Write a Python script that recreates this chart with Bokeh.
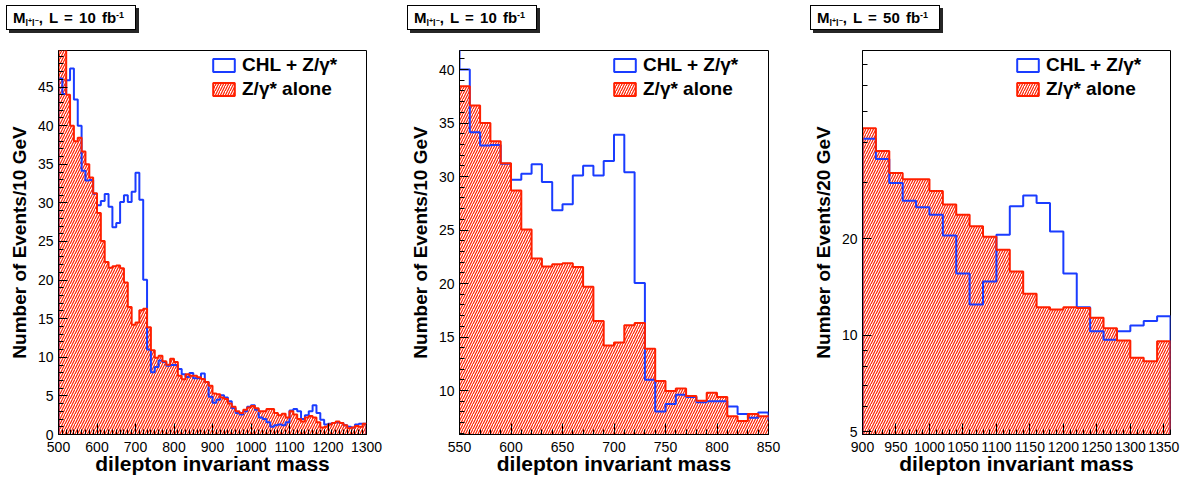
from bokeh.plotting import figure
from bokeh.layouts import row, column
from bokeh.models import (Range1d, SingleIntervalTicker, FixedTicker, Legend,
                          LegendItem, BasicTickFormatter, Div)
from bokeh.embed import file_html
from bokeh.resources import INLINE

# ---------------- data ----------------
# 10 fb^-1, 10 GeV bins (lower edges)
mass_lo_10 = list(range(500, 1300, 10))
chl_10 = [46.1, 44.1, 45.9, 47.4, 43.4, 40.0, 34.15, 32.9, 32.95, 31.2,
          29.7, 30.25, 31.15, 29.5, 26.85, 27.4, 30.1, 31.0, 30.1, 31.45,
          33.9, 30.4, 20.05, 11.0, 8.05, 8.75, 9.6, 9.4, 8.9, 9.0,
          9.0, 8.5, 7.8, 7.45, 7.95, 7.3, 7.3, 7.9, 6.8, 4.9,
          4.1, 4.5, 5.1, 4.8, 4.3, 3.4, 2.8, 2.6, 3.0, 3.6,
          3.8, 3.2, 2.2, 2.0, 1.6, 1.0, 1.2, 1.3, 1.2, 1.6,
          3.1, 3.3, 3.0, 2.0, 2.5, 3.0, 3.8, 2.8, 1.9, 1.3,
          1.4, 1.5, 1.6, 1.5, 1.2, 1.0, 0.9, 1.3, 1.4, 1.4]
dy_10 = [54.0, 51.0, 44.0, 40.0, 38.0, 38.45, 36.65, 35.0, 33.3, 31.25,
         28.7, 25.05, 22.35, 21.6, 21.8, 21.9, 21.55, 19.7, 16.5, 14.2,
         14.5, 16.1, 16.3, 13.9, 10.9, 9.95, 10.2, 9.5, 9.05, 9.8,
         9.4, 7.6, 7.15, 7.8, 7.6, 7.6, 7.4, 7.2, 6.8, 6.3,
         5.3, 5.2, 4.8, 4.6, 4.0, 3.6, 3.0, 2.8, 3.2, 3.5,
         3.7, 3.4, 3.0, 3.0, 3.3, 3.3, 2.8, 2.5, 2.7, 2.2,
         3.0, 2.6, 2.0, 1.7, 2.2, 2.4, 2.2, 1.6, 0.9, 1.0,
         1.3, 1.5, 1.7, 1.5, 1.2, 0.8, 0.9, 1.1, 1.0, 1.4]

# 50 fb^-1, 20 GeV bins (lower edges)
mass_lo_20 = list(range(900, 1360, 20))
chl_50 = [41.1, 35.5, 29.9, 26.3, 25.1, 23.8, 20.5, 15.6, 12.5, 14.74, 20.6, 25.3,
          27.3, 25.9, 21.1, 15.6, 12.25, 10.3, 9.7, 10.3, 10.75, 11.1, 11.47]
dy_50 = [44.3, 37.6, 32.1, 30.7, 30.7, 28.2, 25.6, 23.8, 21.9, 20.3, 18.5, 15.84,
         13.5, 12.25, 12.05, 12.25, 12.17, 11.36, 10.53, 9.65, 8.52, 8.31, 9.6]

lumi_labels = ["10", "10", "50"]
y_titles = ["Number of Events/10 GeV", "Number of Events/10 GeV", "Number of Events/20 GeV"]
x_title = "dilepton invariant mass"
legend_labels = ["CHL + Z/\u03b3*", "Z/\u03b3* alone"]

# ---------------- style ----------------
FONT = "Liberation Sans"
BLUE = "#1a3cff"
RED = "#ff2000"
DIV_H = 34
TOTAL_H = 478


def outline(lo, bw, vals, base):
    xs, ys = [lo[0]], [base]
    for x0, v in zip(lo, vals):
        xs += [x0, x0 + bw]
        ys += [v, v]
    xs.append(lo[-1] + bw)
    ys.append(base)
    return xs, ys


def title_div(width, box_left, lumi):
    html = (
        '<div style="margin-left:%dpx;margin-top:5px;width:130px;height:25px;'
        'box-sizing:border-box;border:1px solid #000;background:#fff;'
        'box-shadow:3px 3px 0 #262626;font-family:\'Liberation Sans\';font-weight:bold;'
        'font-size:15px;line-height:23px;padding-left:6px;white-space:nowrap;color:#000;">'
        'M<span style="font-size:9px;position:relative;top:3px;">l'
        '<span style="font-size:7px;position:relative;top:-3px;">+</span>l'
        '<span style="font-size:7px;position:relative;top:-3px;">\u2212</span></span>'
        '<span style="word-spacing:2px;">, L = %s fb</span>'
        '<span style="font-size:9px;position:relative;top:-5px;">-1</span></div>'
    ) % (box_left, lumi)
    return Div(text=html, width=width, height=DIV_H, margin=(0, 0, 0, 0))


def make_panel(lo, bw, blue, red, xr, yr, ylog, width, bl, br, xint, xminor,
               yticker, ytitle):
    p = figure(width=width, height=TOTAL_H - DIV_H,
               min_border_left=bl, min_border_right=br,
               min_border_top=50 - DIV_H, min_border_bottom=44,
               x_range=Range1d(*xr), y_range=Range1d(*yr),
               y_axis_type="log" if ylog else "linear",
               output_backend="svg", toolbar_location=None, title=None)
    p.background_fill_color = "white"
    p.border_fill_color = "white"
    p.outline_line_color = "black"
    p.outline_line_width = 1
    p.xgrid.visible = False
    p.ygrid.visible = False

    base = 1.0 if ylog else yr[0] - 5
    rx, ry = outline(lo, bw, red, base)
    bx, by = outline(lo, bw, blue, base)

    r_red_fill = p.patch(x=rx, y=ry, fill_color=None, line_color=None,
                         hatch_pattern="/", hatch_color=RED, hatch_scale=5,
                         hatch_weight=1.2)
    r_blue = p.patch(x=bx, y=by, fill_color=None, line_color=BLUE, line_width=2)
    r_red = p.patch(x=rx, y=ry, fill_color=None, line_color=RED, line_width=2,
                    hatch_pattern="/", hatch_color=RED, hatch_scale=5,
                    hatch_weight=1.2, hatch_alpha=0.0)

    leg = Legend(items=[LegendItem(label=legend_labels[0], renderers=[r_blue]),
                        LegendItem(label=legend_labels[1], renderers=[r_red_fill, r_red])],
                 location=(152, 334), padding=0, margin=0, spacing=2,
                 glyph_width=27, glyph_height=16, label_height=16, label_standoff=5,
                 label_text_font=FONT, label_text_font_style="bold",
                 label_text_font_size="19px", label_text_color="black",
                 border_line_color=None,
                 background_fill_color="white", background_fill_alpha=1.0)
    p.add_layout(leg)

    xa = p.xaxis[0]
    xa.ticker = SingleIntervalTicker(interval=xint, num_minor_ticks=xminor)
    xa.major_tick_in = 11
    xa.major_tick_out = 0
    xa.minor_tick_in = 5
    xa.minor_tick_out = 0
    xa.major_label_standoff = 7
    xa.major_label_text_font = FONT
    xa.major_label_text_font_size = "14px"
    xa.major_label_text_color = "black"
    xa.axis_line_color = "black"
    xa.axis_label = x_title
    xa.axis_label_standoff = -3
    xa.axis_label_text_font = FONT
    xa.axis_label_text_font_style = "bold"
    xa.axis_label_text_font_size = "21px"
    xa.axis_label_text_color = "black"

    ya = p.yaxis[0]
    ya.ticker = yticker
    if ylog:
        ya.formatter = BasicTickFormatter()
    ya.major_tick_in = 9
    ya.major_tick_out = 0
    ya.minor_tick_in = 5
    ya.minor_tick_out = 0
    ya.major_label_standoff = 5
    ya.major_label_text_font = FONT
    ya.major_label_text_font_size = "14px"
    ya.major_label_text_color = "black"
    ya.axis_line_color = "black"
    ya.axis_label = ytitle
    ya.axis_label_standoff = 5
    ya.axis_label_text_font = FONT
    ya.axis_label_text_font_style = "bold"
    ya.axis_label_text_font_size = "19px"
    ya.axis_label_text_color = "black"
    return p


lin_y1 = SingleIntervalTicker(interval=5, num_minor_ticks=5)
lin_y2 = SingleIntervalTicker(interval=5, num_minor_ticks=5)
log_y3 = FixedTicker(ticks=[5, 10, 20], minor_ticks=[6, 7, 8, 9, 30, 40, 50, 60, 70])

W1, W2, W3 = 403, 393, 386
p1 = make_panel(mass_lo_10, 10, chl_10, dy_10, (500, 1300), (0, 49.74), False,
                W1, 58, 37, 100, 10, lin_y1, y_titles[0])
p2 = make_panel(mass_lo_10, 10, chl_10, dy_10, (550, 850), (5.89, 41.78), False,
                W2, 56, 28, 50, 5, lin_y2, y_titles[1])
p3 = make_panel(mass_lo_20, 20, chl_50, dy_50, (900, 1360), (4.91, 77.4), True,
                W3, 66, 12, 50, 5, log_y3, y_titles[2])

c1 = column(title_div(W1, 6, lumi_labels[0]), p1, spacing=0)
c2 = column(title_div(W2, 4, lumi_labels[1]), p2, spacing=0)
c3 = column(title_div(W3, 14, lumi_labels[2]), p3, spacing=0)
layout = row(c1, c2, c3, spacing=0)
open("out.html", "w").write(file_html(layout, INLINE))
